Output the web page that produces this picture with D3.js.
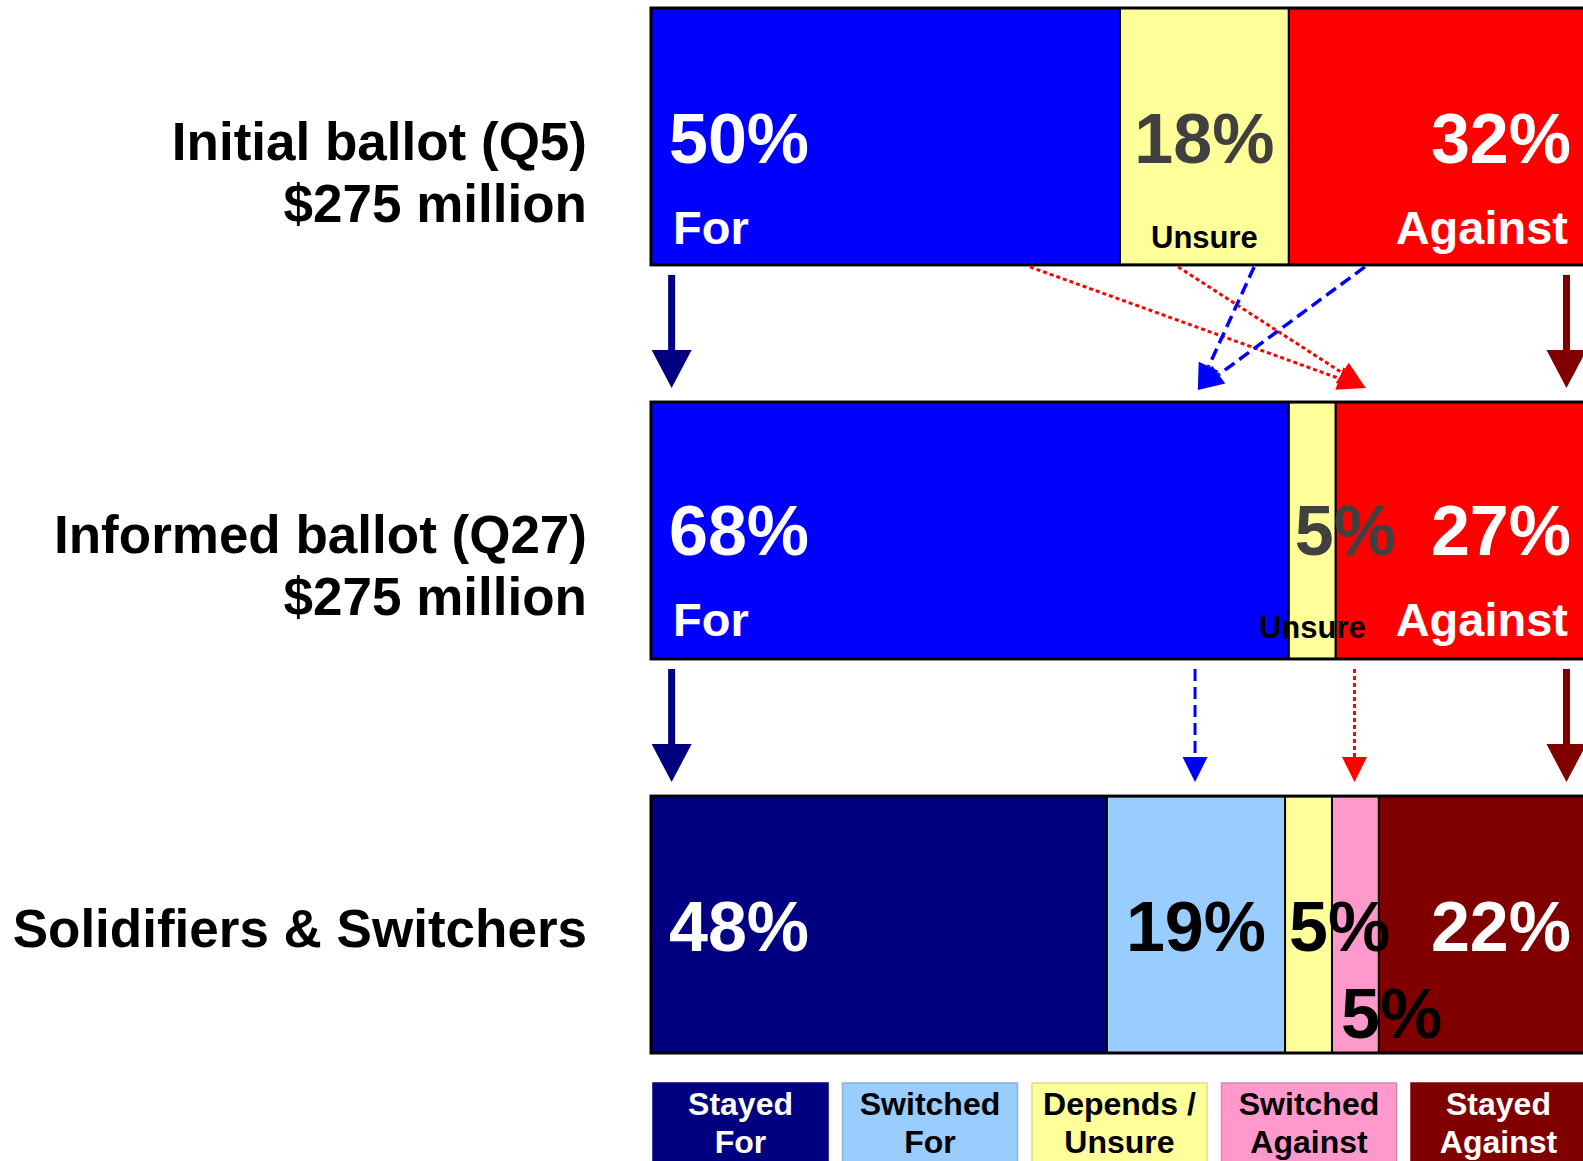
<!DOCTYPE html>
<html>
<head>
<meta charset="utf-8">
<script src="https://cdn.jsdelivr.net/npm/d3@7"></script>
<style>
  body { margin: 0; background: #fff; overflow: hidden; }
  text { font-family: "Liberation Sans", Arial, sans-serif; font-weight: bold; }
</style>
</head>
<body>
<div id="chart"></div>
<script>
// Chart data
const rowTitles = ["Initial ballot (Q5)", "Informed ballot (Q27)", "Solidifiers & Switchers"];
const rowSubtitles = ["$275 million", "$275 million", ""];

const ballotNames = ["For", "Unsure", "Against"];
const initialValues = [50, 18, 32];
const initialLabels = ["50%", "18%", "32%"];
const informedValues = [68, 5, 27];
const informedLabels = ["68%", "5%", "27%"];
const finalValues = [48.6, 19, 5, 5, 22.4];
const finalLabels = ["48%", "19%", "5%", "5%", "22%"];

const legendLabels = [["Stayed", "For"], ["Switched", "For"], ["Depends /", "Unsure"], ["Switched", "Against"], ["Stayed", "Against"]];

// flows between rows (in % of the bar)
const stayedFor = 2.2, stayedAgainst = 97.6;
const switchForFrom = [64.3, 76.1], switchForTo = 58.3;
const switchAgainstFrom = [40.4, 56.2], switchAgainstTo = 76.2;
const finalArrows = [2.2, 58, 75, 97.6];

// colours
const ballotColors = ["#0000ff", "#ffff99", "#ff0000"];
const finalColors = ["#000080", "#99ccff", "#ffff99", "#ff99cc", "#800000"];

const W = 1583, H = 1161;
const svg = d3.select("#chart").append("svg")
    .attr("width", W).attr("height", H);

const x = d3.scaleLinear().domain([0, 100]).range([651, 1589]);
const y = d3.scaleBand().domain(rowTitles).range([8, 1053]).paddingInner(0.348);
const bh = y.bandwidth();

// stack helper
function stack(values) {
  let acc = 0;
  return values.map(v => { const s = acc; acc += v; return [s, acc]; });
}

// row titles on the left
rowTitles.forEach((t, i) => {
  const cy = y(t) + bh / 2;
  const g = svg.append("g").attr("text-anchor", "end").style("font-size", "53px");
  if (rowSubtitles[i]) {
    g.append("text").attr("x", 587).attr("y", cy + 24 - i * 2).text(t);
    g.append("text").attr("x", 587).attr("y", cy + 86 - i * 2).text(rowSubtitles[i]);
  } else {
    g.append("text").attr("x", 587).attr("y", cy + 22).text(t);
  }
});

// draw one stacked bar
function drawBar(row, values, colors) {
  const top = y(row);
  const g = svg.append("g");
  const segs = stack(values);
  g.selectAll("rect.seg")
    .data(segs)
    .join("rect")
      .attr("class", "seg")
      .attr("x", d => x(d[0]))
      .attr("y", top)
      .attr("width", d => x(d[1]) - x(d[0]))
      .attr("height", bh)
      .attr("fill", (d, i) => colors[i])
      .attr("stroke", "#000")
      .attr("stroke-width", 2);
  g.append("rect")
    .attr("x", x(0)).attr("y", top)
    .attr("width", x(100) - x(0)).attr("height", bh)
    .attr("fill", "none").attr("stroke", "#000").attr("stroke-width", 3);
  return {g, segs, top};
}

function label(g, txt, xp, yp, anchor, size, color) {
  g.append("text")
    .attr("x", xp).attr("y", yp)
    .attr("text-anchor", anchor)
    .style("font-size", size + "px")
    .attr("fill", color)
    .text(txt);
}

// Row 1
let b = drawBar(rowTitles[0], initialValues, ballotColors);
label(b.g, initialLabels[0], x(b.segs[0][0]) + 18, b.top + 155, "start", 70, "#fff");
label(b.g, initialLabels[1], (x(b.segs[1][0]) + x(b.segs[1][1])) / 2, b.top + 155, "middle", 70, "#404040");
label(b.g, initialLabels[2], x(b.segs[2][1]) - 18, b.top + 155, "end", 70, "#fff");
label(b.g, ballotNames[0], x(b.segs[0][0]) + 22, b.top + 236, "start", 47, "#fff");
label(b.g, ballotNames[1], (x(b.segs[1][0]) + x(b.segs[1][1])) / 2, b.top + 240, "middle", 31, "#000");
label(b.g, ballotNames[2], x(b.segs[2][1]) - 21, b.top + 236, "end", 47, "#fff");

// Row 2
b = drawBar(rowTitles[1], informedValues, ballotColors);
label(b.g, informedLabels[0], x(b.segs[0][0]) + 18, b.top + 153, "start", 70, "#fff");
label(b.g, informedLabels[1], x(b.segs[1][0]) + 6, b.top + 153, "start", 70, "#404040");
label(b.g, informedLabels[2], x(b.segs[2][1]) - 18, b.top + 153, "end", 70, "#fff");
label(b.g, ballotNames[0], x(b.segs[0][0]) + 22, b.top + 234, "start", 47, "#fff");
label(b.g, ballotNames[1], (x(b.segs[1][0]) + x(b.segs[1][1])) / 2, b.top + 236, "middle", 31, "#000");
label(b.g, ballotNames[2], x(b.segs[2][1]) - 21, b.top + 234, "end", 47, "#fff");

// Row 3
b = drawBar(rowTitles[2], finalValues, finalColors);
label(b.g, finalLabels[0], x(b.segs[0][0]) + 18, b.top + 155, "start", 70, "#fff");
label(b.g, finalLabels[1], (x(b.segs[1][0]) + x(b.segs[1][1])) / 2, b.top + 155, "middle", 70, "#000");
label(b.g, finalLabels[2], x(b.segs[2][0]) + 4, b.top + 155, "start", 70, "#000");
label(b.g, finalLabels[3], x(b.segs[3][0]) + 9, b.top + 242, "start", 70, "#000");
label(b.g, finalLabels[4], x(b.segs[4][1]) - 18, b.top + 155, "end", 70, "#fff");

// arrows
function arrow(x1, y1, x2, y2, o) {
  const dx = x2 - x1, dy = y2 - y1, len = Math.hypot(dx, dy);
  const ux = dx / len, uy = dy / len;
  const bx = x2 - ux * o.headLen, by = y2 - uy * o.headLen;
  svg.append("line")
    .attr("x1", x1).attr("y1", y1).attr("x2", bx).attr("y2", by)
    .attr("stroke", o.color).attr("stroke-width", o.width)
    .attr("stroke-dasharray", o.dash || null);
  const px = -uy * o.headW / 2, py = ux * o.headW / 2;
  svg.append("polygon")
    .attr("points", [[x2, y2], [bx + px, by + py], [bx - px, by - py]].map(p => p.join(",")).join(" "))
    .attr("fill", o.color);
}

const bigNavy = {color: "#000080", width: 7, headLen: 38, headW: 40};
const bigRed = {color: "#800000", width: 7, headLen: 38, headW: 40};
const blueDash = {color: "#0000ff", width: 3.5, headLen: 26, headW: 22, dash: "12,6"};
const redDot = {color: "#ff0000", width: 3, headLen: 28, headW: 24, dash: "4,3"};

// between row 1 and row 2
const b1 = y(rowTitles[0]) + bh, t2 = y(rowTitles[1]);
arrow(x(stayedFor), b1 + 10, x(stayedFor), t2 - 14, bigNavy);
arrow(x(stayedAgainst), b1 + 10, x(stayedAgainst), t2 - 14, bigRed);
switchAgainstFrom.forEach(v => arrow(x(v), b1 + 2, x(switchAgainstTo), t2 - 14, redDot));
switchForFrom.forEach(v => arrow(x(v), b1 + 2, x(switchForTo), t2 - 12, blueDash));

// between row 2 and row 3
const b2 = y(rowTitles[1]) + bh, t3 = y(rowTitles[2]);
arrow(x(finalArrows[0]), b2 + 10, x(finalArrows[0]), t3 - 14, bigNavy);
arrow(x(finalArrows[1]), b2 + 10, x(finalArrows[1]), t3 - 14, Object.assign({}, blueDash, {headLen: 25, headW: 25, width: 3}));
arrow(x(finalArrows[2]), b2 + 10, x(finalArrows[2]), t3 - 14, Object.assign({}, redDot, {headLen: 25, headW: 25}));
arrow(x(finalArrows[3]), b2 + 10, x(finalArrows[3]), t3 - 14, bigRed);

// legend
const lx = d3.scaleBand().domain(d3.range(legendLabels.length)).range([653, 1586]).paddingInner(0.0765);
const legend = svg.append("g").selectAll("g")
  .data(legendLabels)
  .join("g")
    .attr("transform", (d, i) => `translate(${lx(i)},1083)`);

legend.append("rect")
    .attr("width", lx.bandwidth())
    .attr("height", 100)
    .attr("fill", (d, i) => finalColors[i])
    .attr("stroke", (d, i) => i === 0 || i === 4 ? finalColors[i] : d3.color(finalColors[i]).darker(0.4))
    .attr("stroke-width", 1.5);

legend.selectAll("text")
  .data((d, i) => d.map(t => ({t, i})))
  .join("text")
    .attr("x", lx.bandwidth() / 2)
    .attr("y", (d, j) => 32 + j * 38)
    .attr("text-anchor", "middle")
    .style("font-size", "32px")
    .attr("fill", d => d.i === 0 || d.i === 4 ? "#fff" : "#000")
    .text(d => d.t);
</script>
</body>
</html>
